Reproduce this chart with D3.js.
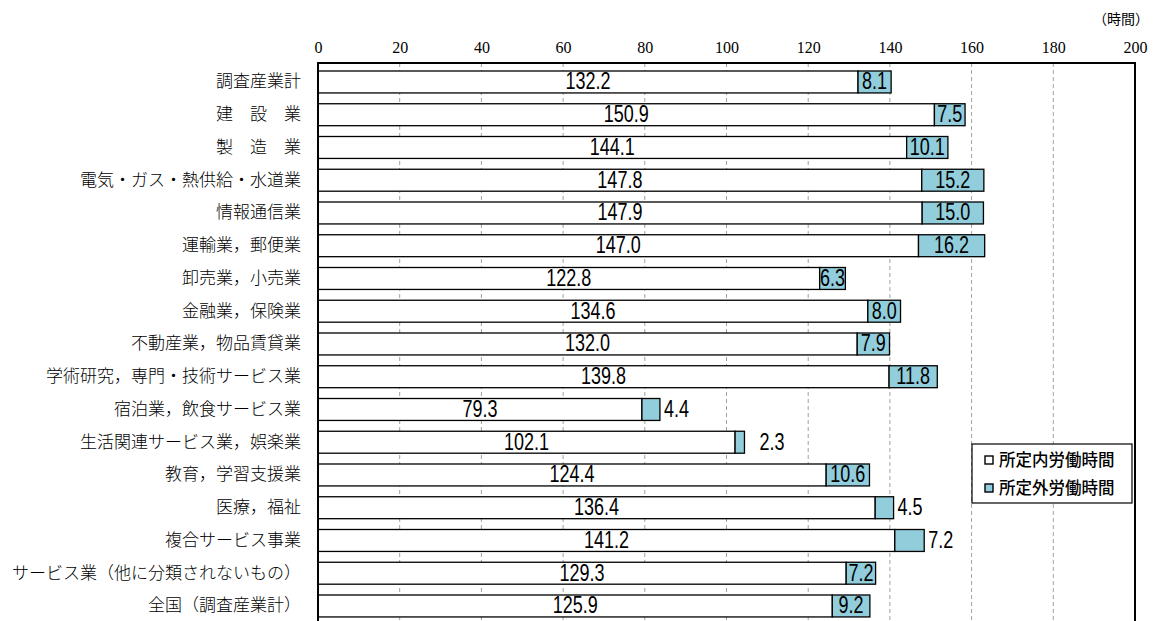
<!DOCTYPE html>
<html><head><meta charset="utf-8">
<script src="https://cdn.jsdelivr.net/npm/d3@7"></script>
<style>body{margin:0;background:#fff;} svg{display:block;}</style>
</head><body>
<svg id="c" width="1156" height="621"></svg>
<script>
const categories = ["調査産業計","建　設　業","製　造　業","電気・ガス・熱供給・水道業","情報通信業","運輸業，郵便業","卸売業，小売業","金融業，保険業","不動産業，物品賃貸業","学術研究，専門・技術サービス業","宿泊業，飲食サービス業","生活関連サービス業，娯楽業","教育，学習支援業","医療，福祉","複合サービス事業","サービス業（他に分類されないもの）","全国（調査産業計）"];
const scheduled = [132.2,150.9,144.1,147.8,147.9,147.0,122.8,134.6,132.0,139.8,79.3,102.1,124.4,136.4,141.2,129.3,125.9];
const overtime = [8.1,7.5,10.1,15.2,15.0,16.2,6.3,8.0,7.9,11.8,4.4,2.3,10.6,4.5,7.2,7.2,9.2];
const xTicks = [0,20,40,60,80,100,120,140,160,180,200];
const seriesNames = ["所定内労働時間","所定外労働時間"];
const colors = ["#ffffff","#92cddc"];
const unitLabel = "（時間）";
// categories whose overtime label sits outside the bar
const outsideLabels = ["宿泊業，飲食サービス業","生活関連サービス業，娯楽業","医療，福祉","複合サービス事業"];

const svg = d3.select("#c");
const L = 318, R = 1135, T = 63, B = 640;
const step = 32.75, pi = 0.33;
const yStart = 71 - pi/2*step;
const x = d3.scaleLinear().domain([0,200]).range([L,R]);
const y = d3.scaleBand().domain(categories).range([yStart, yStart + categories.length*step])
  .paddingInner(pi).paddingOuter(pi/2);

// gridlines
svg.append("g").selectAll("line").data(xTicks.filter(t=>t>0&&t<200)).join("line")
  .attr("x1",d=>x(d)).attr("x2",d=>x(d)).attr("y1",T).attr("y2",B)
  .attr("stroke","#a0a0a0").attr("stroke-width",1).attr("stroke-dasharray","4,3");

// axis labels
const ax = svg.append("g").attr("transform",`translate(0,${T})`)
  .call(d3.axisTop(x).tickValues(xTicks).tickSize(0).tickPadding(10));
ax.select(".domain").remove();
ax.selectAll("text").attr("font-family","'Liberation Serif','DejaVu Serif',serif").attr("font-size",16).attr("fill","#000");

svg.append("text").attr("x",1149).attr("y",24).attr("text-anchor","end")
  .attr("font-family","'Noto Sans CJK JP',sans-serif").attr("font-size",14).text(unitLabel);

// category labels
const yAx = svg.append("g").attr("transform",`translate(${L},0)`)
  .call(d3.axisLeft(y).tickSize(0).tickPadding(17));
yAx.select(".domain").remove();
yAx.selectAll("text").attr("font-family","'Noto Sans CJK JP',sans-serif").attr("font-size",17).attr("font-weight",300).attr("fill","#000");

// bars
const g = svg.append("g");
const fnt = "'Liberation Sans',Arial,sans-serif";
function label(px, py, txt, anchor){
  g.append("text").attr("transform",`translate(${px},${py}) scale(1,1.35)`)
    .attr("text-anchor",anchor).attr("font-family",fnt).attr("font-size",18).text(txt);
}
categories.forEach((c,i)=>{
  const y0 = y(c), h = y.bandwidth();
  const a = scheduled[i], b = overtime[i];
  g.append("rect").attr("x",x(0)).attr("y",y0).attr("width",x(a)-x(0)).attr("height",h)
    .attr("fill",colors[0]).attr("stroke","#000").attr("stroke-width",1.3);
  g.append("rect").attr("x",x(a)).attr("y",y0).attr("width",x(a+b)-x(a)).attr("height",h)
    .attr("fill",colors[1]).attr("stroke","#000").attr("stroke-width",1.3);
  const by = y0 + h/2 + 7.5;
  label((x(0)+x(a))/2, by, a.toFixed(1), "middle");
  const w = x(a+b)-x(a);
  if (!outsideLabels.includes(c)) {
    label(x(a)+w/2, by, b.toFixed(1), "middle");
  } else {
    const off = w < 12 ? 15 : 4;
    label(x(a+b)+off, by, b.toFixed(1), "start");
  }
});

// plot border
svg.append("rect").attr("x",L).attr("y",T).attr("width",R-L).attr("height",B-T)
  .attr("fill","none").attr("stroke","#000").attr("stroke-width",2);

// legend
const lg = svg.append("g");
lg.append("rect").attr("x",972).attr("y",444).attr("width",160).attr("height",59)
  .attr("fill","#fff").attr("stroke","#000").attr("stroke-width",1.2);
seriesNames.forEach((s,i)=>{
  const yy = 460 + i*28;
  lg.append("rect").attr("x",985).attr("y",yy-4).attr("width",8).attr("height",8)
    .attr("fill",colors[i]).attr("stroke","#000").attr("stroke-width",1.4);
  lg.append("text").attr("x",999).attr("y",yy+6).attr("font-family","'Noto Sans CJK JP',sans-serif")
    .attr("font-size",16.5).attr("font-weight",500).text(s);
});
</script>
</body></html>
